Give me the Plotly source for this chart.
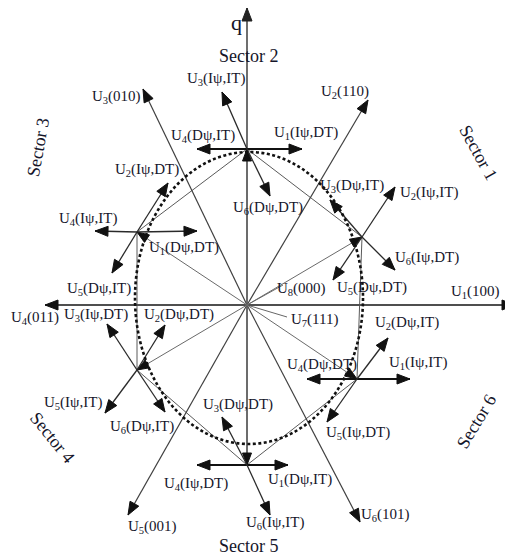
import numpy as np
import plotly.graph_objects as go

# ---------------- data (pixel units, origin at vector-diagram centre, y up) ----------------
# Stator-flux positions (one per sector)
FLUX_NAMES = ["S2", "S1", "S3", "S4", "S5", "S6"]
FLUX_X = [0, 115, -110, -110, 0, 110]
FLUX_Y = [156, 68, 73, -65, -160, -74]

# Basic voltage vectors from origin
BASIC_LABELS = ["U<sub>1</sub>(100)", "U<sub>2</sub>(110)", "U<sub>3</sub>(010)",
                "U<sub>4</sub>(011)", "U<sub>5</sub>(001)", "U<sub>6</sub>(101)"]
BASIC_X = [268, 121, -104, -202, -119, 113]
BASIC_Y = [0, 205, 216, 0, -210, -217]
BASIC_LX = [228, 98, -131, -212, -95, 138]
BASIC_LY = [13, 213, 208, -13, -222, -210]

Q_TOP = 297
ZERO_LABELS = ["U<sub>8</sub>(000)", "U<sub>7</sub>(111)"]
ZERO_PX = [36, 40]
ZERO_PY = [20, -12]
ZERO_LX = [54, 67]
ZERO_LY = [16, -15]

# Switching vectors at each flux position
SW_FROM = [0, 0, 0, 0,
           1, 1, 1, 1,
           2, 2, 2, 2,
           3, 3, 3, 3,
           4, 4, 4, 4,
           5, 5, 5, 5]
SW_LABEL = ["U<sub>1</sub>(Iψ,DT)", "U<sub>4</sub>(Dψ,IT)", "U<sub>3</sub>(Iψ,IT)", "U<sub>6</sub>(Dψ,DT)",
            "U<sub>2</sub>(Iψ,IT)", "U<sub>5</sub>(Dψ,DT)", "U<sub>6</sub>(Iψ,DT)", "U<sub>3</sub>(Dψ,IT)",
            "U<sub>4</sub>(Iψ,IT)", "U<sub>1</sub>(Dψ,DT)", "U<sub>2</sub>(Iψ,DT)", "U<sub>5</sub>(Dψ,IT)",
            "U<sub>3</sub>(Iψ,DT)", "U<sub>2</sub>(Dψ,DT)", "U<sub>5</sub>(Iψ,IT)", "U<sub>6</sub>(Dψ,IT)",
            "U<sub>4</sub>(Iψ,DT)", "U<sub>1</sub>(Dψ,IT)", "U<sub>3</sub>(Dψ,DT)", "U<sub>6</sub>(Iψ,IT)",
            "U<sub>4</sub>(Dψ,DT)", "U<sub>1</sub>(Iψ,IT)", "U<sub>2</sub>(Dψ,IT)", "U<sub>5</sub>(Iψ,DT)"]
SW_X = [55, -50, -25, 23,
        148, 86, 148, 83,
        -152, -50, -79, -135,
        -140, -82, -142, -82,
        -50, 41, -25, 23,
        60, 163, 141, 80]
SW_Y = [156, 156, 213, 109,
        118, 25, 35, 105,
        74, 74, 122, 32,
        -19, -20, -108, -107,
        -160, -160, -112, -210,
        -74, -74, -33, -117]
SW_LX = [59, -44, -31, 21,
         182, 125, 180, 105,
         -159, -63, -100, -148,
         -151, -68, -174, -105,
         -51, 53, -9, 28,
         75, 171, 160, 111]
SW_LY = [172, 169, 226, 97,
         112, 17, 47, 119,
         86, 57, 135, 16,
         -10, -10, -98, -122,
         -179, -175, -100, -218,
         -60, -58, -18, -128]

SECTOR_LABELS = ["Sector 1", "Sector 2", "Sector 3", "Sector 4", "Sector 5", "Sector 6"]
SECTOR_LX = [231, 1, -209, -195, 1, 229]
SECTOR_LY = [153, 249, 157, -132, -241, -117]
SECTOR_ANGLE = [61, 0, -80, 51, 0, -59]

# flux locus (ellipse) bounds
LOCUS_X = [-112, 116]
LOCUS_Y = [-139, 153]

# ---------------- drawing ----------------
FONT = "Liberation Serif"
TXT = "#15152a"


def seg_trace(x0, y0, x1, y1, color, width):
    xs, ys = [], []
    for a, b, c, d in zip(x0, y0, x1, y1):
        xs += [a, c, None]
        ys += [b, d, None]
    return go.Scatter(x=xs, y=ys, mode="lines", line=dict(color=color, width=width),
                      hoverinfo="skip", showlegend=False)


def head_trace(x0, y0, x1, y1, color, L=13.0, W=5.0):
    xs, ys = [], []
    for a, b, c, d in zip(x0, y0, x1, y1):
        v = np.array([c - a, d - b], float)
        v /= np.linalg.norm(v)
        n = np.array([-v[1], v[0]])
        base = np.array([c, d]) - L * v
        p1 = base + W * n
        p2 = base - W * n
        xs += [c, p1[0], p2[0], c, None]
        ys += [d, p1[1], p2[1], d, None]
    return go.Scatter(x=xs, y=ys, mode="lines", fill="toself", fillcolor=color,
                      line=dict(color=color, width=1), hoverinfo="skip", showlegend=False)


fig = go.Figure()

# hexagon sides (neighbouring flux positions)
order = [0, 1, 5, 4, 3, 2, 0]
hx0 = [FLUX_X[order[i]] for i in range(6)]
hy0 = [FLUX_Y[order[i]] for i in range(6)]
hx1 = [FLUX_X[order[i + 1]] for i in range(6)]
hy1 = [FLUX_Y[order[i + 1]] for i in range(6)]
fig.add_trace(seg_trace(hx0, hy0, hx1, hy1, "#5a5a5a", 1))

# axes
fig.add_trace(seg_trace([BASIC_X[3], 0], [0, FLUX_Y[4]], [BASIC_X[0], 0], [0, Q_TOP], "#5f5f5f", 1.8))
fig.add_trace(head_trace([0], [0], [0], [Q_TOP], "#222"))

# basic vectors
fig.add_trace(seg_trace([0] * 6, [0] * 6, BASIC_X, BASIC_Y, "#404040", 1.2))
fig.add_trace(head_trace([0] * 6, [0] * 6, BASIC_X, BASIC_Y, "#111"))

# zero vector pointers
fig.add_trace(seg_trace([0, 0], [0, 0], ZERO_PX, ZERO_PY, "#555", 0.9))

# flux vectors origin -> positions
fig.add_trace(seg_trace([0] * 6, [0] * 6, FLUX_X, FLUX_Y, "#6a6a6a", 1))
fig.add_trace(head_trace([0] * 6, [0] * 6, FLUX_X, FLUX_Y, "#111", L=12, W=4.5))

# switching vectors at flux positions
sx0 = [FLUX_X[i] for i in SW_FROM]
sy0 = [FLUX_Y[i] for i in SW_FROM]
horiz = [abs(y1 - y0) < 1 for y0, y1 in zip(sy0, SW_Y)]
fig.add_trace(seg_trace([a for a, h in zip(sx0, horiz) if h], [a for a, h in zip(sy0, horiz) if h],
                        [a for a, h in zip(SW_X, horiz) if h], [a for a, h in zip(SW_Y, horiz) if h],
                        "#111", 2.2))
fig.add_trace(seg_trace([a for a, h in zip(sx0, horiz) if not h], [a for a, h in zip(sy0, horiz) if not h],
                        [a for a, h in zip(SW_X, horiz) if not h], [a for a, h in zip(SW_Y, horiz) if not h],
                        "#2a2a2a", 1.3))
fig.add_trace(head_trace(sx0, sy0, SW_X, SW_Y, "#111"))

# d-axis name (partly beyond the right edge, as in the source figure)
fig.add_trace(go.Scatter(x=[258], y=[15], mode="text", text=["d"], textposition="middle right",
                         textfont=dict(family=FONT, size=21, color=TXT), cliponaxis=False,
                         hoverinfo="skip", showlegend=False))

# flux locus
fig.add_shape(type="circle", xref="x", yref="y", x0=LOCUS_X[0], x1=LOCUS_X[1],
              y0=LOCUS_Y[0], y1=LOCUS_Y[1], line=dict(color="#111", width=2.6, dash="3px,2.5px"))

ann = []
for t, x, y in zip(BASIC_LABELS, BASIC_LX, BASIC_LY):
    ann.append(dict(x=x, y=y, text=t))
for t, x, y in zip(ZERO_LABELS, ZERO_LX, ZERO_LY):
    ann.append(dict(x=x, y=y, text=t))
for t, x, y in zip(SW_LABEL, SW_LX, SW_LY):
    ann.append(dict(x=x, y=y, text=t))
for a in ann:
    a.update(xref="x", yref="y", showarrow=False, font=dict(family=FONT, size=15, color=TXT))
for t, x, y, ang in zip(SECTOR_LABELS, SECTOR_LX, SECTOR_LY, SECTOR_ANGLE):
    ann.append(dict(x=x, y=y, text=t, textangle=ang, xref="x", yref="y", showarrow=False,
                    font=dict(family=FONT, size=18, color=TXT)))
ann.append(dict(x=-11, y=283, text="q", xref="x", yref="y", showarrow=False,
                font=dict(family=FONT, size=22, color=TXT)))

# page body has an 8px margin: the figure occupies window pixels 8..513 x 8..556
fig.update_layout(
    width=505, height=548, margin=dict(l=0, r=0, t=0, b=0),
    paper_bgcolor="white", plot_bgcolor="white",
    xaxis=dict(range=[-239, 266], visible=False, fixedrange=True),
    yaxis=dict(range=[-251, 297], visible=False, fixedrange=True),
    annotations=ann, showlegend=False,
)
fig.write_html("out.html")
